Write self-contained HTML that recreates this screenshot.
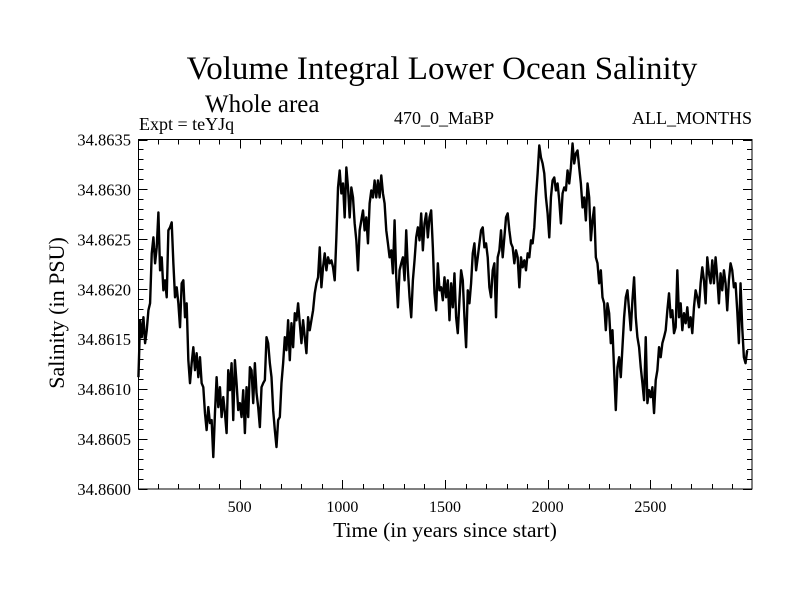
<!DOCTYPE html>
<html><head><meta charset="utf-8">
<style>
html,body{margin:0;padding:0;background:#fff;}
svg{display:block;font-family:"Liberation Serif",serif;}
</style></head>
<body>
<svg id="chart" width="800" height="600" viewBox="0 0 800 600">
<rect width="800" height="600" fill="#fff"/>
<text x="442" y="79" font-size="33" text-anchor="middle">Volume Integral Lower Ocean Salinity</text>
<text x="205" y="112" font-size="25">Whole area</text>
<text x="139" y="130" font-size="18">Expt = teYJq</text>
<text x="444" y="124" font-size="18" text-anchor="middle">470_0_MaBP</text>
<text x="752" y="124" font-size="18" text-anchor="end">ALL_MONTHS</text>
<text x="445" y="537" font-size="21.5" text-anchor="middle">Time (in years since start)</text>
<text transform="translate(64,313) rotate(-90)" font-size="22" text-anchor="middle">Salinity (in PSU)</text>
<g id="ticks"></g>
<g id="series"></g>
<rect x="138.5" y="139.5" width="613.5" height="349.5" fill="none" stroke="#000" stroke-width="1"/>
</svg>
<script>
const startYear = 7;
const yearStep = 8.1;
const baseSalinity = 34.86;
// salinity anomaly in units of 1e-5 PSU above 34.8600
const salinityAnomaly = [
112,169,152,172,146,159,179,186,236,252,226,242,277,219,232,199,209,192,259,262,267,226,192,202,186,162,206,209,172,186,129,106,126,142,119,136,112,132,106,102,76,59,82,66,69,32,76,112,82,102,72,92,76,56,119,99,126,69,129,106,79,86,72,99,56,102,72,122,119,86,126,96,82,62,102,106,109,152,146,126,112,79,59,42,69,72,106,126,152,139,169,129,166,142,176,169,186,166,146,169,152,136,172,159,169,179,196,206,212,242,202,222,236,219,232,226,229,222,209,252,302,319,296,306,272,
322,302,272,302,292,266,249,219,259,269,279,259,272,246,286,299,292,309,292,309,292,314,296,286,259,246,232,239,216,269,212,182,219,226,232,209,259,219,192,172,209,229,252,262,249,276,239,266,276,252,272,279,242,196,179,226,199,202,189,212,192,209,169,206,182,216,172,156,189,219,209,172,142,199,186,206,236,246,219,232,246,259,262,242,246,232,202,192,219,226,172,232,239,259,232,252,272,276,259,246,242,226,239,232,202,232,222,229,219,236,232,249,246,262,292,316,344,332,326,316,
292,276,252,292,309,312,299,306,289,266,296,302,299,319,306,322,346,326,336,339,322,306,282,292,269,306,292,249,269,282,232,226,206,219,192,186,159,186,176,146,159,119,79,122,132,112,142,172,192,199,179,159,189,212,172,152,142,122,106,89,152,86,99,92,102,76,109,119,142,132,146,152,159,179,196,172,179,156,162,219,172,186,159,176,166,182,162,172,156,182,199,192,182,206,222,209,186,232,216,206,229,206,232,212,186,216,199,219,206,179,209,226,219,202,206,179,146,206,162,132,126,139
];
const yTickValues = [34.8600,34.8605,34.8610,34.8615,34.8620,34.8625,34.8630,34.8635];
const yTickLabels = ["34.8600","34.8605","34.8610","34.8615","34.8620","34.8625","34.8630","34.8635"];
const xTickValues = [500,1000,1500,2000,2500];
const xTickLabels = ["500","1000","1500","2000","2500"];

const NS = "http://www.w3.org/2000/svg";
const L = 138.5, R = 752, T = 139.5, B = 489;
const xMin = 7.3, xMax = 2995, yMin = 34.86, yMax = 34.8635;
function xScale(t){ return L + (t - xMin) / (xMax - xMin) * (R - L); }
function yScale(v){ return B - (v - yMin) / (yMax - yMin) * (B - T); }

const ticks = document.getElementById('ticks');
function line(x1,y1,x2,y2,name){
  const l = document.createElementNS(NS,'line');
  l.setAttribute('x1',x1); l.setAttribute('y1',y1); l.setAttribute('x2',x2); l.setAttribute('y2',y2);
  l.setAttribute('stroke','#000'); l.setAttribute('stroke-width','1');
  
  
  ticks.appendChild(l);
}
function label(x,y,txt,anchor,size,name){
  const t = document.createElementNS(NS,'text');
  t.setAttribute('x',x); t.setAttribute('y',y); t.setAttribute('font-size',size);
  t.setAttribute('text-anchor',anchor); t.textContent = txt;
  
  
  ticks.appendChild(t);
}
for (let k = 0; k <= 35; k++) {
  const v = yMin + k * 0.0001, y = Math.round(yScale(v)) + 0.5;
  const len = (k % 5 === 0) ? 9 : 5;
  line(L, y, L + len, y, 'y-tick');
  line(R, y, R - len, y, 'y-tick-right');
}
yTickValues.forEach((v,i) => {
  label(131, yScale(v) + 6, yTickLabels[i], 'end', '16.5', 'y-tick-label');
});
for (let t = 100; t <= 2900; t += 100) {
  const x = Math.round(xScale(t)) + 0.5;
  const len = (t % 500 === 0) ? 9 : 5;
  line(x, B, x, B - len, 'x-tick');
  line(x, T, x, T + len, 'x-tick-top');
}
xTickValues.forEach((v,i) => {
  label(xScale(v), 512, xTickLabels[i], 'middle', '16', 'x-tick-label');
});

const pts = salinityAnomaly.map((a,i) => {
  const t = startYear + i * yearStep;
  const v = baseSalinity + a * 1e-5;
  return xScale(t).toFixed(2) + ',' + yScale(v).toFixed(2);
});
const path = document.createElementNS(NS,'polyline');
path.setAttribute('points', pts.join(' '));
path.setAttribute('fill','none');
path.setAttribute('stroke','#000');
path.setAttribute('stroke-width','2.4');
path.setAttribute('stroke-linejoin','round');


document.getElementById('series').appendChild(path);
</script>
</body></html>
